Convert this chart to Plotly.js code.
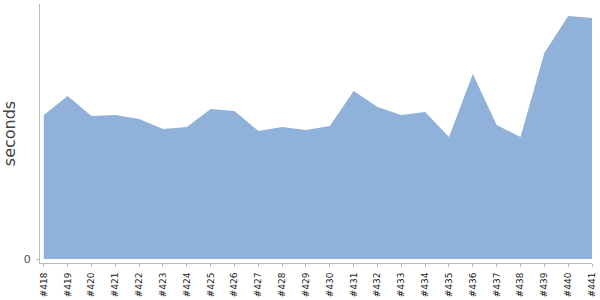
<!DOCTYPE html>
<html><head><meta charset="utf-8">
<script src="https://cdn.plot.ly/plotly-3.0.1.min.js"></script>
<style>html,body{margin:0;padding:0;background:#fff}#chart{width:600px;height:300px}</style>
</head><body><div id="chart"></div>
<script>
const builds = ['#418','#419','#420','#421','#422','#423','#424','#425','#426','#427','#428','#429',
  '#430','#431','#432','#433','#434','#435','#436','#437','#438','#439','#440','#441'];
const seconds = [144,163,143,144,140,130,132,150,148,128,132,129,
  133,168,152,144,147,122,185,134,122,206,243,241];
const yTickVals = [0];
const yTickText = ['0'];

const trace = {
  type: 'scatter', mode: 'lines', x: builds, y: seconds,
  fill: 'tozeroy', fillcolor: 'rgb(143,177,218)',
  line: {width: 0, color: 'rgb(143,177,218)'},
  hoverinfo: 'skip'
};
const layout = {
  width: 600, height: 300,
  margin: {l: 40, r: 8, t: 4, b: 37},
  paper_bgcolor: '#fff', plot_bgcolor: '#fff',
  showlegend: false,
  font: {family: 'DejaVu Sans', color: '#222'},
  xaxis: {
    type: 'category', range: [-0.16, 23.0], showgrid: false, zeroline: false,
    showline: true, linecolor: '#bbb', linewidth: 1,
    ticks: 'outside', ticklen: 3, tickcolor: '#bbb', ticklabelstandoff: 2,
    tickangle: -90, tickfont: {size: 9, color: '#222', family: 'DejaVu Sans'}
  },
  yaxis: {
    range: [-4, 255], showgrid: false, zeroline: false,
    showline: true, linecolor: '#bbb', linewidth: 1,
    ticks: 'outside', ticklen: 3, tickcolor: '#bbb', ticklabelstandoff: 3,
    tickvals: yTickVals, ticktext: yTickText,
    tickfont: {size: 11, color: '#555', family: 'DejaVu Sans'},
    title: {text: 'seconds', font: {size: 16, color: '#444', family: 'DejaVu Sans'}, standoff: 6}
  }
};
Plotly.newPlot('chart', [trace], layout, {staticPlot: true, displayModeBar: false});
</script></body></html>
